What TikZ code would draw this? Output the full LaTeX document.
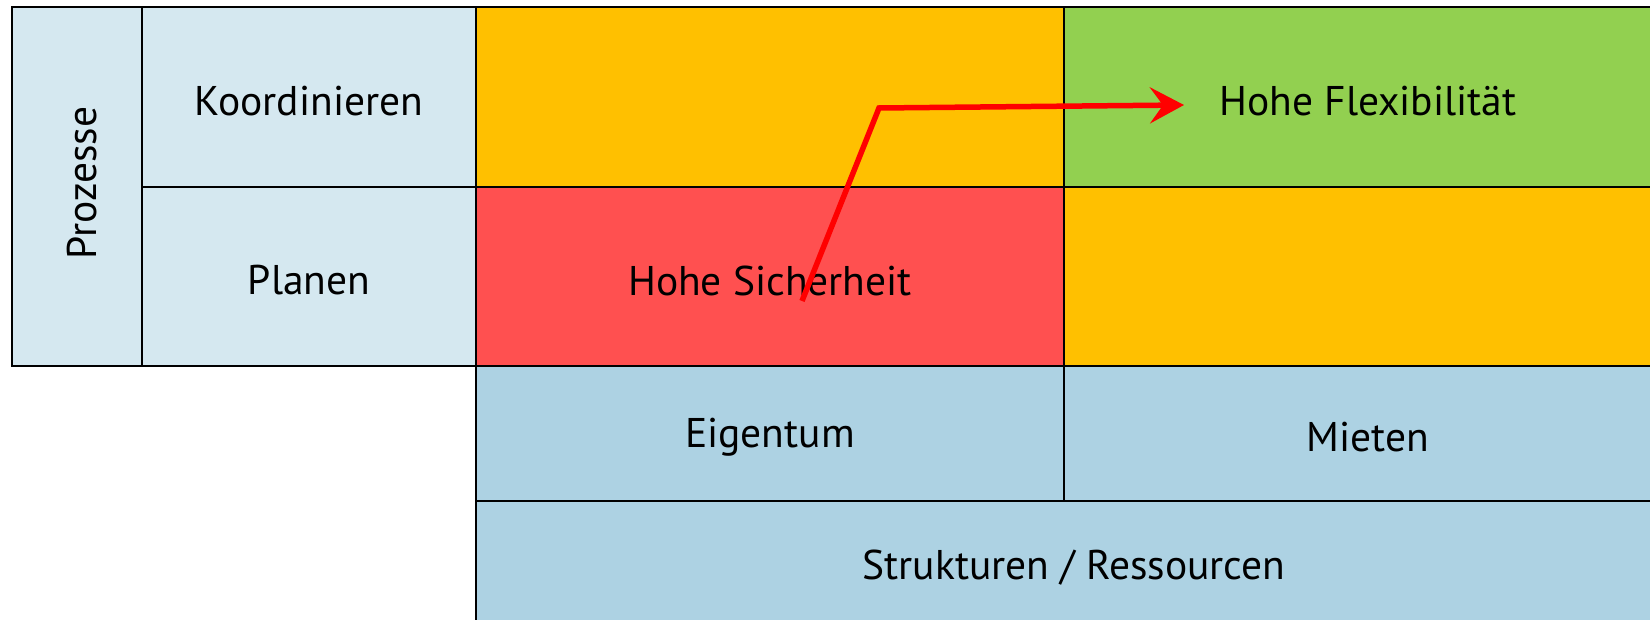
\documentclass[tikz,border=0pt]{standalone}
\usepackage{fontspec}
\setmainfont{PT Sans}
\usetikzlibrary{arrows.meta}
\definecolor{procblue}{RGB}{213,232,240}
\definecolor{resblue}{RGB}{173,210,227}
\definecolor{amber}{RGB}{255,192,0}
\definecolor{softred}{RGB}{255,80,80}
\definecolor{lgreen}{RGB}{146,208,80}
\definecolor{arrowred}{RGB}{255,0,0}
\begin{document}
\begin{tikzpicture}[x=1pt,y=-1pt,
  cell/.style={draw=black,line width=2.2pt,rectangle,inner sep=0pt},
  lbl/.style={inner sep=0pt,font=\fontsize{41.5}{50}\selectfont}]
\useasboundingbox (0,0) rectangle (1650,620);
\clip (0,0) rectangle (1650,620);
% cells
\node[cell,fill=procblue,minimum width=130pt,minimum height=359pt] (proz) at (77,186.5) {};
\node[lbl,rotate=90] (prozt) at (82,183) {Prozesse};
\node[cell,fill=procblue,minimum width=334pt,minimum height=180pt] (koord) at (309,97) {};
\node[lbl] (koordt) at (309,101) {Koordinieren};
\node[cell,fill=procblue,minimum width=334pt,minimum height=179pt] (plan) at (309,276.5) {};
\node[lbl] (plant) at (309,280) {Planen};
\node[cell,fill=amber,minimum width=588pt,minimum height=180pt] (oA) at (770,97) {};
\node[cell,fill=lgreen,minimum width=608pt,minimum height=180pt] (flex) at (1368,97) {};
\node[lbl] (flext) at (1368,101) {Hohe Flexibilität};
\node[cell,fill=softred,minimum width=588pt,minimum height=179pt] (sich) at (770,276.5) {};
\node[lbl] (sicht) at (770,281) {Hohe Sicherheit};
\node[cell,fill=amber,minimum width=608pt,minimum height=179pt] (oB) at (1368,276.5) {};
\node[cell,fill=resblue,line width=1.6pt,minimum width=588pt,minimum height=135pt] (eig) at (770,433.5) {};
\node[lbl] (eigt) at (770,437) {Eigentum};
\node[cell,fill=resblue,line width=1.6pt,minimum width=608pt,minimum height=135pt] (miet) at (1368,433.5) {};
\node[lbl] (mietst) at (1368,437) {Mieten};
\node[cell,fill=resblue,minimum width=1196pt,minimum height=128pt] (struk) at (1074,565) {};
\node[lbl] (strukt) at (1074,568) {Strukturen / Ressourcen};
% arrow
\coordinate (a0) at (802,301);
\coordinate (a1) at (879,108);
\coordinate (a2) at (1184,105);
\draw[arrowred,line width=5.5pt,line join=miter,
  -{Stealth[length=34pt,width=36pt,inset=13pt]}] (a0) -- (a1) -- (a2);
\end{tikzpicture}
\end{document}
